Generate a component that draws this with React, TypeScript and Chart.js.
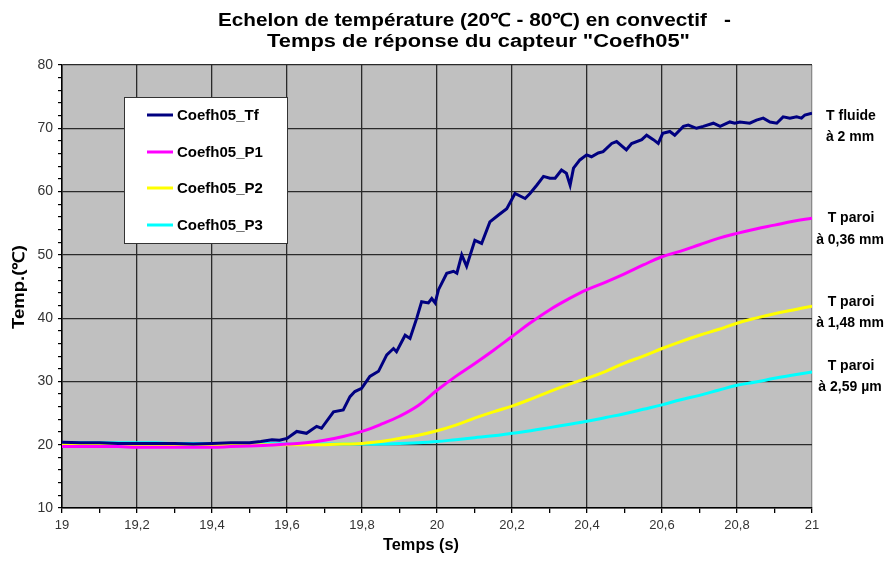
import { useEffect, useRef } from "react";
import { Chart, registerables } from "chart.js";

Chart.register(...registerables);

const FONT = "'Liberation Sans', Arial, sans-serif";

const titleLines = ["Echelon de température (20℃ - 80℃) en convectif   -", 'Temps de réponse du capteur "Coefh05"'];
const xAxisTitle = "Temps (s)";
const yAxisTitle = "Temp.(℃)";
const xTickLabels = ["19", "19,2", "19,4", "19,6", "19,8", "20", "20,2", "20,4", "20,6", "20,8", "21"];
const seriesNames = ["Coefh05_Tf", "Coefh05_P1", "Coefh05_P2", "Coefh05_P3"];
const seriesColors = ["#000080", "#ff00ff", "#ffff00", "#00ffff"];
const annotations = [
  ["T fluide", "à 2 mm"],
  ["T paroi", "à 0,36 mm"],
  ["T paroi", "à 1,48 mm"],
  ["T paroi", "à 2,59 µm"],
];

// Fluid temperature (noisy)
const tfTimes = [
  19.0, 19.05, 19.1, 19.15, 19.2, 19.25, 19.3, 19.35, 19.4, 19.45, 19.5, 19.53, 19.56, 19.58, 19.6,
  19.626, 19.652, 19.679, 19.692, 19.724, 19.75, 19.768, 19.781, 19.799, 19.821, 19.844, 19.866,
  19.884, 19.892, 19.915, 19.928, 19.946, 19.959, 19.977, 19.986, 19.995, 20.004, 20.026, 20.044,
  20.053, 20.066, 20.079, 20.101, 20.119, 20.141, 20.164, 20.186, 20.208, 20.235, 20.248, 20.266,
  20.284, 20.301, 20.315, 20.332, 20.345, 20.355, 20.364, 20.381, 20.399, 20.412, 20.43, 20.443,
  20.466, 20.479, 20.505, 20.519, 20.546, 20.559, 20.577, 20.59, 20.602, 20.621, 20.634, 20.657,
  20.67, 20.692, 20.71, 20.737, 20.755, 20.781, 20.794, 20.808, 20.834, 20.852, 20.87, 20.888,
  20.906, 20.923, 20.941, 20.959, 20.972, 20.981, 21.0,
];
const tfValues = [
  20.4, 20.3, 20.3, 20.2, 20.2, 20.2, 20.2, 20.1, 20.2, 20.3, 20.3, 20.5, 20.8, 20.7, 21.0,
  22.1, 21.8, 22.9, 22.6, 25.2, 25.5, 27.6, 28.4, 28.9, 30.8, 31.6, 34.2,
  35.2, 34.7, 37.3, 36.8, 40.0, 42.6, 42.4, 43.1, 42.4, 44.5, 47.1, 47.4,
  47.1, 50.0, 48.2, 52.3, 51.8, 55.2, 56.3, 57.3, 59.7, 58.9, 59.7, 61.0,
  62.4, 62.1, 62.1, 63.4, 62.9, 61.0, 63.7, 65.0, 65.8, 65.5, 66.1, 66.3,
  67.6, 67.9, 66.6, 67.6, 68.2, 68.9, 68.2, 67.6, 69.2, 69.5, 68.9, 70.3,
  70.5, 70.0, 70.3, 70.8, 70.3, 71.0, 70.8, 71.0, 70.8, 71.3, 71.6, 71.0,
  70.8, 71.8, 71.6, 71.8, 71.6, 72.1, 72.4,
];

// Wall temperatures (smooth), sampled every 0.05 s
const wallTimes = [
  19.0, 19.05, 19.1, 19.15, 19.2, 19.25, 19.3, 19.35, 19.4, 19.45, 19.5, 19.55, 19.6, 19.65, 19.7,
  19.75, 19.8, 19.85, 19.9, 19.95, 20.0, 20.05, 20.1, 20.15, 20.2, 20.25, 20.3, 20.35, 20.4, 20.45,
  20.5, 20.55, 20.6, 20.65, 20.7, 20.75, 20.8, 20.85, 20.9, 20.95, 21.0,
];
const p1Values = [
  19.7, 19.7, 19.7, 19.7, 19.6, 19.6, 19.6, 19.6, 19.6, 19.7, 19.8, 19.9, 20.1, 20.3, 20.7,
  21.3, 22.1, 23.2, 24.5, 26.2, 28.6, 30.8, 32.8, 34.9, 37.1, 39.3, 41.3, 43.0, 44.5, 45.7,
  47.0, 48.4, 49.7, 50.6, 51.6, 52.6, 53.4, 54.1, 54.7, 55.3, 55.8,
];
const p2Values = [
  20.0, 20.0, 20.0, 20.0, 20.0, 20.0, 20.0, 20.0, 20.0, 20.0, 20.0, 20.0, 20.0, 20.0, 20.0,
  20.1, 20.2, 20.5, 21.0, 21.5, 22.2, 23.1, 24.2, 25.2, 26.1, 27.2, 28.4, 29.5, 30.5, 31.6,
  32.9, 34.0, 35.2, 36.3, 37.3, 38.2, 39.2, 40.0, 40.7, 41.3, 41.9,
];
const p3Values = [
  20.3, 20.3, 20.3, 20.3, 20.3, 20.3, 20.2, 20.2, 20.2, 20.2, 20.2, 20.2, 20.1, 20.1, 20.1,
  20.1, 20.1, 20.1, 20.2, 20.3, 20.5, 20.8, 21.1, 21.4, 21.8, 22.2, 22.7, 23.2, 23.7, 24.3,
  24.9, 25.6, 26.3, 27.1, 27.8, 28.6, 29.4, 29.9, 30.5, 31.0, 31.5,
];

function pairs(xs: number[], ys: number[]) {
  return xs.map((x, i) => ({ x, y: ys[i] }));
}

function fitText(ctx: CanvasRenderingContext2D, text: string, x: number, y: number, width: number) {
  const w = ctx.measureText(text).width;
  const sx = width / w;
  ctx.save();
  ctx.translate(x, y);
  ctx.scale(sx, 1);
  ctx.fillText(text, 0, 0);
  ctx.restore();
}

const decorPlugin = {
  id: "decor",
  beforeDraw(chart: any) {
    const { ctx, chartArea } = chart;
    ctx.save();
    ctx.fillStyle = "#ffffff";
    ctx.fillRect(0, 0, chart.width, chart.height);
    ctx.fillStyle = "#c0c0c0";
    ctx.fillRect(chartArea.left, chartArea.top, chartArea.right - chartArea.left, chartArea.bottom - chartArea.top);
    ctx.restore();
  },
  afterDraw(chart: any) {
    const { ctx } = chart;
    ctx.save();
    ctx.fillStyle = "#000";
    // Title
    ctx.font = `bold 18px ${FONT}`;
    ctx.textAlign = "center";
    ctx.textBaseline = "alphabetic";
    fitText(ctx, titleLines[0], 474.5, 26, 513);
    fitText(ctx, titleLines[1], 478.5, 46.5, 423);
    // X axis title
    ctx.font = `bold 16px ${FONT}`;
    fitText(ctx, xAxisTitle, 421, 550, 76);
    // Y axis title
    ctx.save();
    ctx.translate(20, 287);
    ctx.rotate(-Math.PI / 2);
    ctx.textBaseline = "middle";
    ctx.font = `bold 16px ${FONT}`;
    fitText(ctx, yAxisTitle, 0, 0, 84);
    ctx.restore();
    // Right annotations
    ctx.font = `bold 14px ${FONT}`;
    ctx.textBaseline = "middle";
    const annY = [[116, 137], [218, 240], [302, 323], [366, 387]];
    annotations.forEach((lines, i) => {
      ctx.fillText(lines[0], 851, annY[i][0]);
      ctx.fillText(lines[1], 850, annY[i][1]);
    });
    // Legend box
    ctx.fillStyle = "#ffffff";
    ctx.fillRect(124, 97, 163, 146);
    ctx.strokeStyle = "#333";
    ctx.lineWidth = 1;
    ctx.strokeRect(124.5, 97.5, 163, 146);
    const rowY = [115, 152, 188, 225];
    ctx.font = `bold 15px ${FONT}`;
    ctx.textAlign = "left";
    seriesNames.forEach((name, i) => {
      ctx.strokeStyle = seriesColors[i];
      ctx.lineWidth = 3;
      ctx.beginPath();
      ctx.moveTo(147, rowY[i]);
      ctx.lineTo(173, rowY[i]);
      ctx.stroke();
      ctx.fillStyle = "#000";
      ctx.fillText(name, 177, rowY[i] + 1);
    });
    ctx.restore();
  },
};

export default function App() {
  const ref = useRef<HTMLCanvasElement>(null);
  useEffect(() => {
    const canvas = ref.current!;
    const chart = new Chart(canvas, {
      type: "line",
      data: {
        datasets: [
          { label: seriesNames[0], data: pairs(tfTimes, tfValues), borderColor: seriesColors[0], borderWidth: 3, pointRadius: 0, tension: 0, fill: false },
          { label: seriesNames[1], data: pairs(wallTimes, p1Values), borderColor: seriesColors[1], borderWidth: 3, pointRadius: 0, tension: 0.4, fill: false },
          { label: seriesNames[2], data: pairs(wallTimes, p2Values), borderColor: seriesColors[2], borderWidth: 3, pointRadius: 0, tension: 0.4, fill: false },
          { label: seriesNames[3], data: pairs(wallTimes, p3Values), borderColor: seriesColors[3], borderWidth: 3, pointRadius: 0, tension: 0.4, fill: false },
        ],
      },
      options: {
        responsive: false,
        animation: false,
        devicePixelRatio: 1,
        layout: { padding: { top: 65, right: 79, left: 0, bottom: 0 } },
        plugins: { legend: { display: false }, tooltip: { enabled: false }, title: { display: false } },
        scales: {
          x: {
            type: "linear",
            min: 19,
            max: 21,
            ticks: {
              stepSize: 0.1,
              autoSkip: false,
              maxRotation: 0,
              color: "#333",
              font: { family: FONT, size: 13 },
              padding: 5,
              callback: (_v: any, i: number) => (i % 2 === 0 ? xTickLabels[i / 2] : ""),
            },
            grid: {
              color: (c: any) => (c.index % 2 === 0 ? (c.index === 20 ? "#8a8a8a" : "#2a2a2a") : "rgba(0,0,0,0)"),
              tickColor: "#000",
              tickLength: 5,
              lineWidth: 1.3,
            },
            border: { color: "#000", width: 1.5 },
            afterFit: (s: any) => {
              s.height = 55;
            },
          },
          y: {
            min: 10,
            max: 80,
            ticks: {
              stepSize: 2,
              autoSkip: false,
              color: "#333",
              font: { family: FONT, size: 14 },
              padding: 5,
              callback: (v: any) => (Math.round(v) % 10 === 0 ? String(v) : ""),
            },
            grid: {
              color: (c: any) => (Math.round(c.tick.value) % 10 === 0 ? "#2a2a2a" : "rgba(0,0,0,0)"),
              tickColor: "#000",
              tickLength: 4,
              lineWidth: 1.2,
            },
            border: { color: "#000", width: 1.5 },
            afterFit: (s: any) => {
              s.width = 62;
            },
          },
        },
      },
      plugins: [decorPlugin],
    } as any);
    return () => chart.destroy();
  }, []);
  return (
    <div style={{ position: "fixed", left: 0, top: 0, width: 891, height: 563, background: "#fff" }}>
      <canvas ref={ref} width={891} height={563} style={{ display: "block", width: 891, height: 563 }} />
    </div>
  );
}
